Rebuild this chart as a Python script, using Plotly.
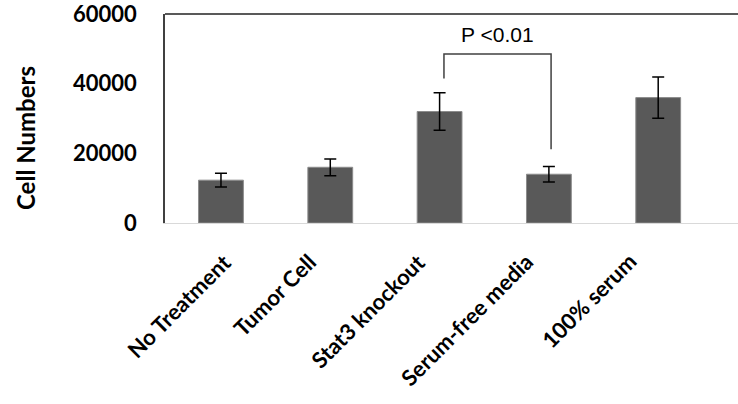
import plotly.graph_objects as go

categories = ["No Treatment", "Tumor Cell", "Stat3 knockout", "Serum-free media", "100% serum"]
values = [12300, 16000, 32000, 14000, 36000]
errors = [2000, 2400, 5400, 2200, 5900]
y_ticks = [0, 20000, 40000, 60000]
bracket_left = 41500
bracket_top = 48500
bracket_right = 21200
p_label = "P <0.01"

xs = list(range(len(categories)))
# horizontal pixel nudges for the rotated category labels (layout only)
label_nudge = [18, -6, -6, -8, -14]

fig = go.Figure()
fig.add_trace(go.Bar(
    x=xs, y=values, width=0.41,
    marker=dict(color="#595959", line=dict(color="#8c8c8c", width=1)),
    error_y=dict(type="data", array=errors, visible=True, color="black", thickness=1.5, width=6),
))

font_main = "Lato, 'Open Sans', sans-serif"

fig.update_layout(
    width=738, height=404,
    margin=dict(l=165, r=0, t=14, b=181),
    paper_bgcolor="white", plot_bgcolor="white",
    showlegend=False,
    xaxis=dict(
        range=[-0.512, 4.73], tickmode="array", tickvals=xs, ticktext=[""] * len(xs),
        showgrid=False, zeroline=False,
        showline=True, linecolor="#d9d9d9", linewidth=1,
        ticks="",
    ),
    yaxis=dict(
        range=[0, 60000], tickmode="array", tickvals=y_ticks,
        ticktext=[str(v) for v in y_ticks],
        showgrid=False, zeroline=False,
        showline=True, linecolor="#404040", linewidth=1.5,
        tickfont=dict(family=font_main, size=22, color="black", weight="bold"),
        ticks="", ticklabelstandoff=22, ticklabeloverflow="allow",
    ),
)

# category labels, rotated
for i, (xv, lab) in enumerate(zip(xs, categories)):
    fig.add_annotation(x=xv, y=0, xref="x", yref="y", text=lab, textangle=-45,
                       showarrow=False, xanchor="right", yanchor="top",
                       xshift=label_nudge[i], yshift=-22,
                       font=dict(family=font_main, size=22, color="black", weight="bold"))

# top border line
fig.add_shape(type="line", xref="paper", yref="paper", x0=0, x1=1, y0=1, y1=1,
              line=dict(color="#595959", width=2))

# significance bracket
fig.add_shape(type="path", xref="x", yref="y",
              path=f"M {xs[2]+0.04},{bracket_left} L {xs[2]+0.04},{bracket_top} L {xs[3]+0.02},{bracket_top} L {xs[3]+0.02},{bracket_right}",
              line=dict(color="#404040", width=1.5))
fig.add_annotation(x=(xs[2]+xs[3])/2 + 0.03, y=bracket_top, yshift=6, text=p_label, showarrow=False,
                   yanchor="bottom", font=dict(family="Liberation Sans, Arial", size=21, color="black"))

# y title
fig.add_annotation(xref="paper", yref="paper", x=-(165-25)/573, y=(223-138)/209,
                   text="Cell Numbers", textangle=-90, showarrow=False,
                   xanchor="center", yanchor="middle",
                   font=dict(family=font_main, size=24, color="black", weight="bold"))

fig.write_html("out.html")
